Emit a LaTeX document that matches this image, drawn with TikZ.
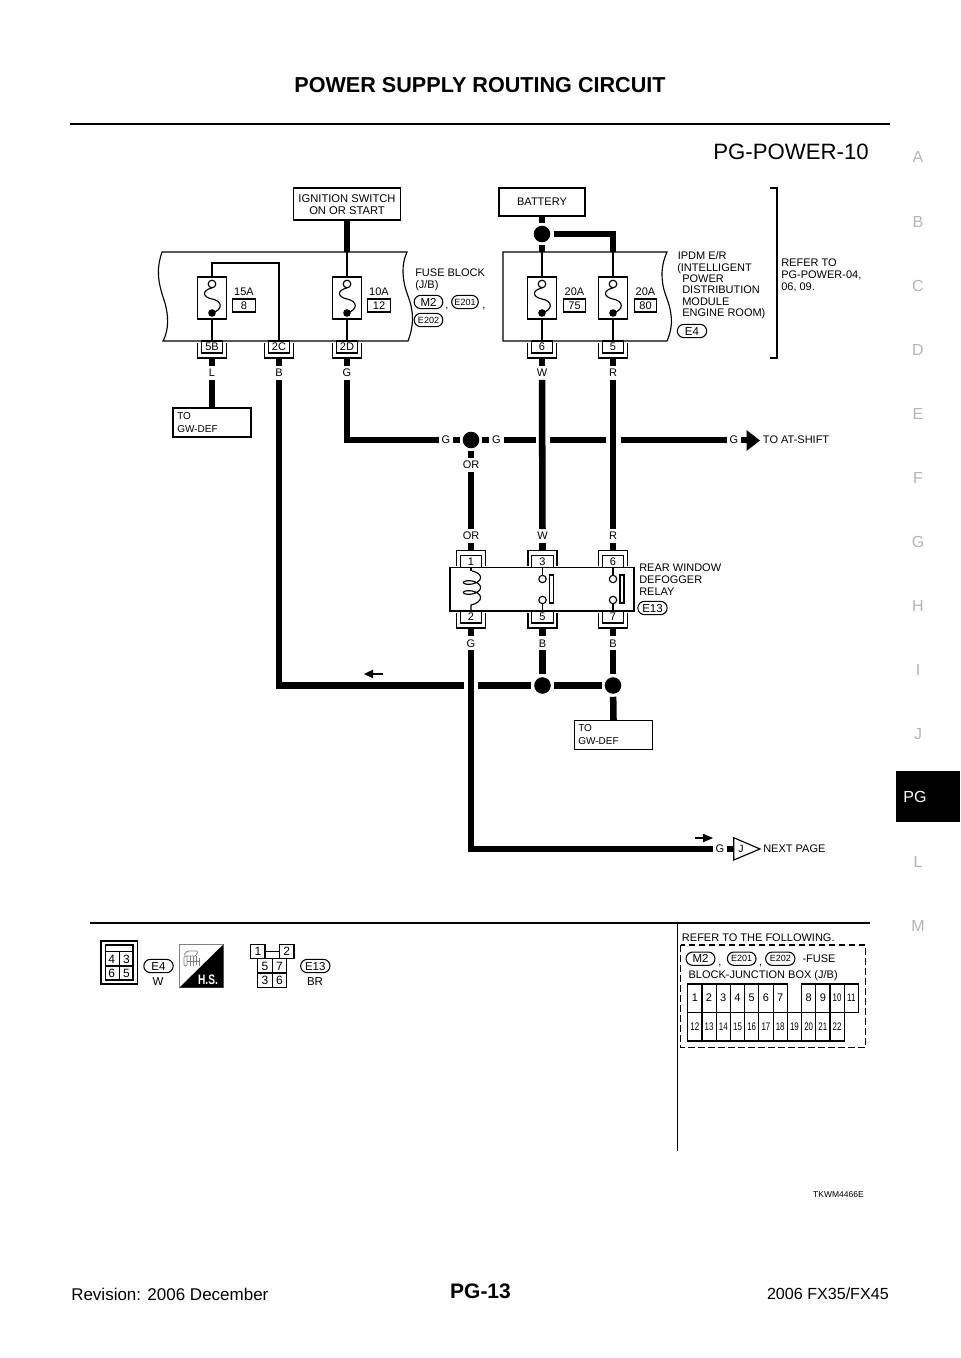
\documentclass[tikz,border=0pt]{standalone}
\usepackage{fontspec}
\setmainfont{Liberation Sans}
\usetikzlibrary{shapes.misc}
\newcommand\pxf[1]{\fontsize{\fpeval{#1*.75}}{\fpeval{#1*.9}}\selectfont}
\tikzset{
  f/.style={font=\pxf{#1},text height=\fpeval{#1*.537}pt,text depth=0pt,inner sep=0pt},
  thin line/.style={line width=.85pt,line join=miter},
  wire/.style={line width=4.9pt,line join=miter,line cap=butt},
  box/.style={draw,thin line,fill=white,align=center},
  lab/.style={f=#1,anchor=west},
  lab/.default=11,
  wl/.style={f=11,outer sep=2.25pt},
  dot/.style={circle,fill=black,minimum size=12.4pt,inner sep=0pt,outer sep=2.25pt},
  pinbox/.style={draw,thin line,fill=white,f=11,minimum width=16pt,minimum height=9pt},
  ov/.style={rounded rectangle,draw,line width=.8pt,fill=white,f=#1,minimum height=10pt},
  ov/.default=11.5,
  side/.style={f=16,text=sidegray},
  cell/.style={f=11},
}
\definecolor{sidegray}{HTML}{B4B4B4}
\newcommand\fuse[1]{%
  \draw[thin line,fill=white] ({#1-14.4},277) rectangle ({#1+14.4},319);
  \draw[thin line] (#1,288) .. controls ({#1-10},290) and ({#1-10},297) .. (#1,299) .. controls ({#1+11},301) and ({#1+11},310) .. (#1,313);
  \draw[thin line,fill=white] (#1,284) circle (3.8);
  \fill (#1,313) circle (3.8);
}
\newcommand\pinU[4]{% name x ytop text
  \draw[thin line] ({#2-14.5},{#3+2}) -- ({#2-14.5},{#3+17}) -- ({#2+14.5},{#3+17}) -- ({#2+14.5},{#3+2});
  \node[pinbox] (#1) at (#2,{#3+6}) {#4};
  \coordinate (#1-b) at (#2,{#3+17});
}
\newcommand\pinN[4]{% name x ybottom text
  \draw[thin line] ({#2-14.5},{#3-2}) -- ({#2-14.5},{#3-17}) -- ({#2+14.5},{#3-17}) -- ({#2+14.5},{#3-2});
  \node[pinbox] (#1) at (#2,{#3-6}) {#4};
  \coordinate (#1-b) at (#2,{#3-17});
}
\newcommand\contact[1]{%
  \draw[thin line] (#1,568) -- (#1,576) (#1,604) -- (#1,611);
  \draw[thin line,fill=white] (#1,579) circle (3.7);
  \draw[thin line,fill=white] (#1,600) circle (3.7);
  \draw[thin line] ({#1+7},575) rectangle ({#1+11},603);
}
\begin{document}
\begin{tikzpicture}[x=.75pt,y=-.75pt]
\useasboundingbox (0,0) rectangle (960,1358);
% header
\node[f=21.6,font=\pxf{21.6}\bfseries] (title) at (480,85) {POWER SUPPLY ROUTING CIRCUIT};
\coordinate (ruleL) at (70,124); \coordinate (ruleR) at (890,124);
\draw[line width=1.9pt] (ruleL) -- (ruleR);
\node[f=22.2,anchor=east] (pgp) at (869,152) {PG-POWER-10};
% sidebar
\foreach \t/\y in {A/157,B/222,C/286,D/350,E/414,F/478,G/542,H/606,I/670,J/734,L/862,M/926}
  \node[side] (s\t) at (918,\y) {\t};
\fill (896,771) rectangle (960,822);
\node[f=16,text=white] (sPG) at (915,797) {PG};
% footer
\node[f=17,anchor=west] (frev) at (71,1294) {Revision: 2006 December};
\node[f=21,font=\pxf{21}\bfseries] (fpg) at (480.5,1291) {PG-13};
\node[f=16.1,anchor=east] (fmod) at (889,1294) {2006 FX35/FX45};
% sources
\node[box,minimum width=80.7pt,minimum height=24pt,f=11.2] (ign) at (347,204) {};
\node[f=11.2] (ign1) at (347,198) {IGNITION SWITCH};
\node[f=11.2] (ign2) at (347,210) {ON OR START};
\node[box,minimum width=64.5pt,minimum height=21pt,f=11] (bat) at (542,202) {BATTERY};
% fuse block
\draw[thin line,fill=white] (162,252) .. controls (156,270) and (158,282) .. (164,300) .. controls (169,315) and (169,330) .. (163,341) -- (408,341) .. controls (414,325) and (414,312) .. (408,296) .. controls (402,280) and (401,265) .. (407,252) -- cycle;
% IPDM
\draw[thin line,fill=white] (503,252) -- (667,252) .. controls (661,265) and (660,280) .. (666,296) .. controls (672,312) and (674,325) .. (667,341) -- (503,341) -- cycle;
% internal wires
\coordinate (t15) at (212,284); \coordinate (b15) at (212,313);
\coordinate (t10) at (347,284); \coordinate (b10) at (347,313);
\coordinate (t75) at (542,284); \coordinate (b75) at (542,313);
\coordinate (t80) at (613,284); \coordinate (b80) at (613,313);
\coordinate (fbtop) at (347,252); \coordinate (iptop1) at (542,252); \coordinate (iptop2) at (613,252);
\coordinate (fb5B) at (212,341); \coordinate (fb2C) at (279,341); \coordinate (fb2D) at (347,341); \coordinate (ip6) at (542,341); \coordinate (ip5) at (613,341);
\draw[thin line] (t15) -- (212,263) -| (fb2C);
\draw[thin line] (b15) -- (fb5B);
\draw[thin line] (fbtop) -- (t10);
\draw[thin line] (b10) -- (fb2D);
\draw[thin line] (iptop1) -- (t75);
\draw[thin line] (b75) -- (ip6);
\draw[thin line] (iptop2) -- (t80);
\draw[thin line] (b80) -- (ip5);
\fuse{212}\fuse{347}\fuse{542}\fuse{613}
\node[f=11] (a15) at (244,292) {15A};
\node[pinbox,minimum width=16.7pt,minimum height=9.7pt] (n8) at (244,305.5) {8};
\node[f=11] (a10) at (379,292) {10A};
\node[pinbox,minimum width=16.7pt,minimum height=9.7pt] (n12) at (379,305.5) {12};
\node[f=11] (a75) at (574.5,292) {20A};
\node[pinbox,minimum width=16pt,minimum height=9.7pt] (n75) at (574.5,305.5) {75};
\node[f=11] (a80) at (645.5,292) {20A};
\node[pinbox,minimum width=16.7pt,minimum height=9.7pt] (n80) at (645.5,305.5) {80};
% connectors
\pinU{c5B}{212}{341}{5B}\pinU{c2C}{279}{341}{2C}\pinU{c2D}{347}{341}{2D}\pinU{c6}{542}{341}{6}\pinU{c5}{613}{341}{5}
% fuse block labels
\node[lab] (fb1) at (415,273) {FUSE BLOCK};
\node[lab] (fb2) at (415,285) {(J/B)};
\node[ov,minimum width=21.5pt] (oM2) at (428.5,302) {M2};
\node[f=11] (cm1) at (447,305) {,};
\node[ov=9,minimum width=20pt,rounded rectangle] (oE201) at (465,302) {E201};
\node[f=11] (cm2) at (484,305) {,};
\node[ov=9,minimum width=21.5pt] (oE202) at (428.5,320) {E202};
% IPDM labels
\node[lab] (ip1) at (677.5,256) {IPDM E/R};
\node[lab] (ip2) at (677,267.5) {(INTELLIGENT};
\node[lab] (ip3) at (682,279) {POWER};
\node[lab] (ip4) at (682,290) {DISTRIBUTION};
\node[lab] (ip5t) at (682,301.5) {MODULE};
\node[lab] (ip6t) at (682,313) {ENGINE ROOM)};
\node[ov,minimum width=22pt] (oE4) at (692,331) {E4};
% bracket
\coordinate (brT) at (770,188); \coordinate (brB) at (770,358);
\draw[thin line] (brT) -- (777,188) -- (777,358) -- (brB);
\node[lab] (rf1) at (781,263) {REFER TO};
\node[lab] (rf2) at (781,274.5) {PG-POWER-04,};
\node[lab] (rf3) at (781,287) {06, 09.};
% battery junction and top wires
\node[dot] (j0) at (542,234) {};
\draw[wire] (bat.south) -- (j0);
\draw[wire] (j0) -- (iptop1);
\coordinate (j0r) at (554,234);
\draw[wire] (j0r) -| (iptop2);
\draw[wire] (ign.south) -- (fbtop);
% wire labels
\node[wl] (lL) at (212,373) {L};
\node[wl] (lB) at (279,373) {B};
\node[wl] (lG) at (347,373) {G};
\node[wl] (lW) at (542,373) {W};
\node[wl] (lR) at (613,373) {R};
\draw[wire] (c5B-b) -- (lL);
\draw[wire] (c2C-b) -- (lB);
\draw[wire] (c2D-b) -- (lG);
\draw[wire] (c6-b) -- (lW);
\draw[wire] (c5-b) -- (lR);
% TO GW-DEF 1
\node[draw,thin line,minimum width=58.5pt,minimum height=21.7pt] (gw1) at (212,422.5) {};
\node[lab=10] (gw1a) at (177,415.5) {TO};
\node[lab=10] (gw1b) at (177,428.5) {GW-DEF};
\draw[wire] (lL) -- (gw1.north);
% G run
\node[wl] (g1) at (446,440) {G};
\node[dot] (j1) at (471,440) {};
\node[wl] (g2) at (496.5,440) {G};
\node[wl] (g3) at (734,440) {G};
\coordinate (gp1) at (535.5,440); \coordinate (gp2) at (549.5,440);
\coordinate (gp3) at (606,440); \coordinate (gp4) at (620.5,440);
\coordinate (tail1) at (747,440);
\draw[wire] (lG) |- (g1);
\draw[wire] (g1) -- (j1);
\draw[wire] (j1) -- (g2);
\draw[wire] (g2) -- (gp1);
\draw[wire] (gp2) -- (gp3);
\draw[wire] (gp4) -- (g3);
\draw[wire] (g3) -- (tail1);
\fill (746.5,430) -- (760,440.5) -- (746.5,451) -- cycle;
\node[lab] (toat) at (762.7,440) {TO AT-SHIFT};
% OR
\node[wl] (or1) at (471,465) {OR};
\node[wl] (or2) at (471,536) {OR};
\node[wl] (w2) at (542.5,536) {W};
\node[wl] (r2) at (613,536) {R};
\draw[wire] (j1) -- (or1);
\draw[wire] (or1) -- (or2);
\draw[wire] (lW) -- (w2);
\draw[wire] (lR) -- (r2);
% relay
\pinN{r1}{471}{567.7}{1}\pinN{r3}{542.5}{567.7}{3}\pinN{r6}{613}{567.7}{6}
\pinU{r2c}{471}{611}{2}\pinU{r5c}{542.5}{611}{5}\pinU{r7c}{613}{611}{7}
\node[draw,thin line,fill=white,minimum width=138pt,minimum height=32.5pt] (relay) at (542,589.3) {};
\contact{542.5}\contact{613}
\draw[thin line] (471,568) -- (471,571);
\draw[thin line] plot[domain=0:810,samples=80,smooth] ({472+8.5*sin(\x)},{575+\x/36-4*cos(\x)}) .. controls (481,600) and (477,604) .. (471,605) -- (471,611);
\node[lab] (rl1) at (639,568) {REAR WINDOW};
\node[lab] (rl2) at (639,580) {DEFOGGER};
\node[lab] (rl3) at (639,591.5) {RELAY};
\node[ov,minimum width=22pt] (oE13) at (652.5,608) {E13};
\draw[wire] (or2) -- (r1-b);
\draw[wire] (w2) -- (r3-b);
\draw[wire] (r2) -- (r6-b);
% below relay
\node[wl] (g5) at (471,643.3) {G};
\node[wl] (b5) at (542.5,643.3) {B};
\node[wl] (b7) at (613,643.3) {B};
\draw[wire] (r2c-b) -- (g5);
\draw[wire] (r5c-b) -- (b5);
\draw[wire] (r7c-b) -- (b7);
\node[dot] (j2) at (542.5,685.5) {};
\node[dot] (j3) at (613,685.5) {};
\draw[wire] (b5) -- (j2);
\draw[wire] (b7) -- (j3);
\draw[wire] (j2) -- (j3);
\coordinate (bgp1) at (464,685.5); \coordinate (bgp2) at (478,685.5);
\draw[wire] (lB) |- (bgp1);
\draw[wire] (bgp2) -- (j2);
\coordinate (al1) at (383,674); \coordinate (al2) at (371,674);
\draw[line width=1.3pt] (al1) -- (al2);
\fill (373,669.7) -- (364,674) -- (373,678.3) -- cycle;
\node[draw,thin line,minimum width=58.5pt,minimum height=21.3pt] (gw2) at (613.5,735) {};
\node[lab=10] (gw2a) at (578,728) {TO};
\node[lab=10] (gw2b) at (578,741) {GW-DEF};
\draw[wire] (j3) -- (gw2.north);
% next page
\node[wl] (g6) at (720,849) {G};
\coordinate (jtail) at (734,849);
\draw[wire] (g5) |- (g6);
\draw[wire] (g6) -- (jtail);
\draw[thin line,fill=white] (733.7,837.7) -- (760,849) -- (733.7,860) -- cycle;
\node[f=10.5] (jl) at (741,849) {J};
\node[lab] (np) at (763,849) {NEXT PAGE};
\coordinate (ar1) at (695,838); \coordinate (ar2) at (704,838);
\draw[line width=1.3pt] (ar1) -- (ar2);
\fill (703,833.7) -- (713,838) -- (703,842.3) -- cycle;
% lower section
\coordinate (lr1) at (90,923); \coordinate (lr2) at (870,923);
\draw[thin line] (lr1) -- (lr2);
\coordinate (vl1) at (677.3,923); \coordinate (vl2) at (677.3,1151);
\draw[thin line] (vl1) -- (vl2);
% E4 connector
\draw[line width=1pt] (101,941) rectangle (137.7,984);
\draw[thin line] (105.7,945) rectangle (133,980);
\draw[thin line] (105.7,951.7) -- (133,951.7) (105.7,966) -- (133,966) (119.3,951.7) -- (119.3,980);
\foreach \t/\x/\y in {4/111.7/959,3/126.5/959,6/111.7/973.5,5/126.5/973.5}
  \node[f=12] (e4\t) at (\x,\y) {\t};
\node[ov,minimum width=22pt] (oE4b) at (158.5,966) {E4};
\node[f=11.5] (e4w) at (158,981) {W};
% H.S. badge
\draw[line width=.9pt,draw=gray,fill=white] (179.5,944.5) rectangle (223.3,987.5);
\fill (223.3,944.5) -- (223.3,987.5) -- (179.5,987.5) -- cycle;
\draw[gray,line width=.6pt,rounded corners=1pt] (184,955) -- (187,951) -- (198,951) -- (196,956) -- (184,956) -- (184,966) -- (187,966) -- (187,956);
\draw[gray,line width=.6pt] (190,956) -- (190,966) (193,956) -- (193,966) (196,956) -- (196,965) (199,958) -- (199,966) (187,961) -- (200,961);
\node[f=12,font=\pxf{13}\bfseries,text=white] (hs) at (208,980) {\scalebox{.78}[1.05]{H.S.}};
% E13 connector
\draw[thin line] (250.7,944.3) rectangle (265,958.3);
\draw[thin line] (279.3,944.3) rectangle (294,958.3);
\draw[thin line] (265,951.7) -- (279.3,951.7);
\draw[thin line] (257.7,958.3) rectangle (286.7,987.3);
\draw[thin line] (265,958.3) -- (279.3,958.3) (272.3,958.3) -- (272.3,987.3) (257.7,973) -- (286.7,973);
\foreach \t/\n/\x/\y in {1/a/258/951.3,2/b/286.7/951.3,5/c/265/966,7/d/279.5/966,3/e/265/980.5,6/f/279.5/980.5}
  \node[f=12] (e13\n) at (\x,\y) {\t};
\node[ov,minimum width=22pt] (oE13b) at (315.3,966) {E13};
\node[f=11.5] (e13br) at (315,981) {BR};
% fuse block key
\node[lab] (k1) at (681.7,937.7) {REFER TO THE FOLLOWING.};
\draw[line width=.9pt,dash pattern=on 5pt off 2.5pt] (680.7,945) rectangle (865.7,1047.3);
\node[ov,minimum width=21.7pt] (kM2) at (700.5,958.7) {M2};
\node[f=11] (kc1) at (720,962) {,};
\node[ov=9,minimum width=21.5pt] (kE201) at (741.7,958.7) {E201};
\node[f=11] (kc2) at (760.7,962) {,};
\node[ov=9,minimum width=22pt] (kE202) at (780.3,958.7) {E202};
\node[lab] (k2) at (802.3,959) {-FUSE};
\node[lab] (k3) at (688.3,974.3) {BLOCK-JUNCTION BOX (J/B)};
\foreach \i/\t in {0/1,1/2,2/3,3/4,4/5,5/6,6/7,8/8,9/9}{
  \draw[thin line] ({687.7+14.23*\i},984) rectangle ({687.7+14.23*(\i+1)},1012.3);
  \node[cell] (kt\t) at ({687.7+14.23*(\i+.5)},998) {\t};
}
\foreach \i/\t in {10/10,11/11}{
  \draw[thin line] ({687.7+14.23*\i},984) rectangle ({687.7+14.23*(\i+1)},1012.3);
  \node[cell] (kt\t) at ({687.7+14.23*(\i+.5)},998) {\scalebox{.72}[1]{\t}};
}
\foreach \i/\t in {0/12,1/13,2/14,3/15,4/16,5/17,6/18,7/19,8/20,9/21,10/22}{
  \draw[thin line] ({687.7+14.23*\i},1012.3) rectangle ({687.7+14.23*(\i+1)},1041);
  \node[cell] (kb\t) at ({687.7+14.23*(\i+.5)},1026.5) {\scalebox{.72}[1]{\t}};
}
\node[f=8.5,anchor=east] (code) at (864,1194) {TKWM4466E};
\end{tikzpicture}
\end{document}
